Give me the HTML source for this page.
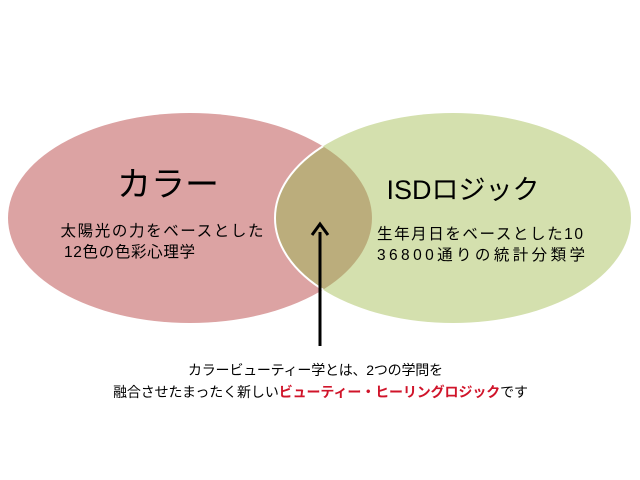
<!DOCTYPE html>
<html><head><meta charset="utf-8"><style>
html,body{margin:0;padding:0;background:#fff;width:640px;height:480px;overflow:hidden}
text{font-family:"Liberation Sans","Noto Sans CJK JP",sans-serif}
</style></head><body>
<svg width="640" height="480" viewBox="0 0 640 480" xmlns="http://www.w3.org/2000/svg">
<defs>
<clipPath id="cl"><ellipse cx="190" cy="218" rx="182" ry="105"/></clipPath>
</defs>
<ellipse cx="190" cy="218" rx="182" ry="105" fill="#dca3a3"/>
<ellipse cx="453" cy="218" rx="178" ry="105" fill="#d4e0ae"/>
<ellipse cx="453" cy="218" rx="178" ry="105" fill="#bbad7c" clip-path="url(#cl)"/>
<ellipse cx="453" cy="218" rx="178" ry="105" fill="none" stroke="#fff" stroke-width="2" clip-path="url(#cl)"/>
<text x="168" y="196" font-size="34" text-anchor="middle">カラー</text>
<text x="162" y="236" font-size="15.5" text-anchor="middle" textLength="203">太陽光の力をベースとした</text>
<text x="64" y="257" font-size="15.5" textLength="131">12色の色彩心理学</text>
<text x="463" y="199" font-size="27" text-anchor="middle">ISDロジック</text>
<text x="377" y="239" font-size="15.5" textLength="206">生年月日をベースとした10</text>
<text x="377" y="260" font-size="15.5" textLength="208">36800通りの統計分類学</text>
<line x1="320" y1="232" x2="320" y2="346" stroke="#000" stroke-width="3"/>
<path d="M312 235 L320 224 L328 235" fill="none" stroke="#000" stroke-width="3"/>
<text x="188" y="375" font-size="14" textLength="255">カラービューティー学とは、2つの学問を</text>
<text x="113" y="397" font-size="14" textLength="415">融合させたまったく新しい<tspan fill="#d0142a" font-weight="bold">ビューティー・ヒーリングロジック</tspan>です</text>
</svg>
</body></html>
